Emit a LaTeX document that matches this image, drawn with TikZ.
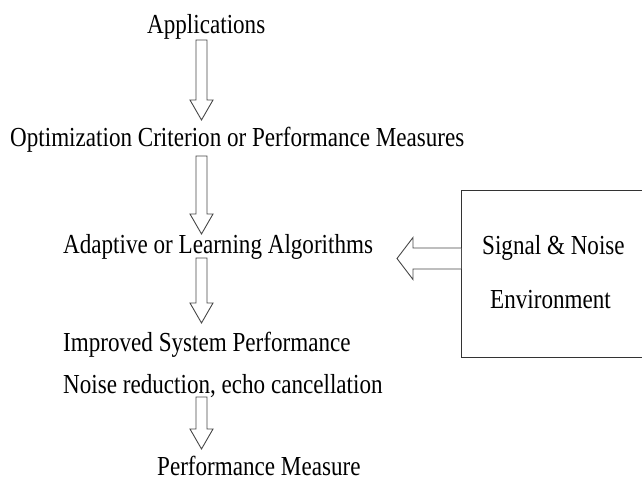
\documentclass[tikz,border=0pt]{standalone}
\usepackage{fontspec}
\setmainfont{Liberation Serif}[FakeStretch=0.84]
\usetikzlibrary{calc}
\tikzset{
  label text/.style={font=\fontsize{27.5}{31}\selectfont, inner sep=0pt, anchor=base west, text=black, text depth=0pt},
  blockline/.style={draw=black!72, line width=0.9pt, fill=white, line join=miter},
  envbox/.style={draw=black!80, line width=1.1pt, inner sep=0pt},
}
% vertical block arrow from tail coordinate #1 down to tip coordinate #2
\newcommand\downblock[2]{%
  \draw[blockline] let \p1=(#1), \p2=(#2) in
    (\x1-5.5pt,\y1) -- (\x1+5.5pt,\y1) -- (\x1+5.5pt,\y2+20pt) -- (\x1+11.5pt,\y2+20pt)
    -- (\x2,\y2) -- (\x1-11.5pt,\y2+20pt) -- (\x1-5.5pt,\y2+20pt) -- cycle;}
% horizontal block arrow from tail coordinate #1 left to tip coordinate #2
\newcommand\leftblock[2]{%
  \draw[blockline] let \p1=(#1), \p2=(#2) in
    (\x1,\y1+10.5pt) -- (\x2+16pt,\y1+10.5pt) -- (\x2+16pt,\y1+21pt) -- (\x2,\y2)
    -- (\x2+16pt,\y1-21pt) -- (\x2+16pt,\y1-10.5pt) -- (\x1,\y1-10.5pt);}
\begin{document}
\begin{tikzpicture}[x=1pt,y=-1pt]
\useasboundingbox (0,0) rectangle (642,481);
\clip (0,0) rectangle (642,481);

% text of the processing chain
\node[label text] (apps) at (147,34) {Applications};
\node[label text] (crit) at (10,146.5) {Optimization Criterion or Performance Measures};
\node[label text] (algo) at (63,253) {Adaptive or Learning Algorithms};
\node[label text] (impr) at (63,351) {Improved System Performance};
\node[label text] (noise) at (63,393) {Noise reduction, echo cancellation};
\node[label text] (meas) at (157,475) {Performance Measure};

% environment box
\node[envbox, anchor=north west, minimum width=200pt, minimum height=167pt] (env) at (461,190) {};
\node[label text] (sig) at (482,254) {Signal \& Noise};
\node[label text] (envt) at (490,308) {Environment};

% arrow end points
\coordinate (a1s) at (201.5,40);  \coordinate (a1e) at (201.5,120);
\coordinate (a2s) at (201.5,156); \coordinate (a2e) at (201.5,234);
\coordinate (a3s) at (201.5,258); \coordinate (a3e) at (201.5,323);
\coordinate (a4s) at (201.5,397); \coordinate (a4e) at (201.5,449);
\coordinate (envport) at (env.west |- 0,258.5);
\coordinate (algoin) at (397,258.5);

\downblock{a1s}{a1e}
\downblock{a2s}{a2e}
\downblock{a3s}{a3e}
\downblock{a4s}{a4e}
\leftblock{envport}{algoin}
\end{tikzpicture}
\end{document}
